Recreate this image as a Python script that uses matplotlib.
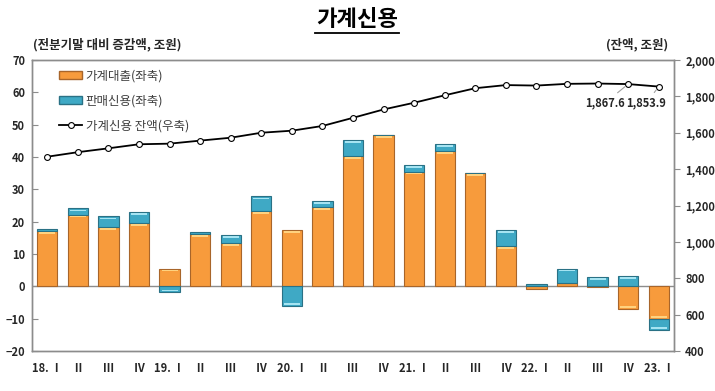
import matplotlib
matplotlib.use("Agg")
import matplotlib.pyplot as plt
from matplotlib.lines import Line2D
from matplotlib.patches import Patch
import numpy as np

plt.rcParams['font.family'] = ['Noto Sans CJK KR', 'DejaVu Sans']

categories = ["18. Ⅰ", "Ⅱ", "Ⅲ", "Ⅳ", "19. Ⅰ", "Ⅱ", "Ⅲ", "Ⅳ", "20. Ⅰ", "Ⅱ", "Ⅲ", "Ⅳ",
              "21. Ⅰ", "Ⅱ", "Ⅲ", "Ⅳ", "22. Ⅰ", "Ⅱ", "Ⅲ", "Ⅳ", "23. Ⅰ"]
household_loans = [17.2, 22.2, 18.4, 19.6, 5.5, 16.2, 13.4, 23.4, 17.5, 24.6, 40.4, 46.9,
                   35.5, 41.9, 35.1, 12.4, -0.8, 0.9, -0.3, -6.9, -10.0]
sales_credit = [0.4, 1.9, 3.2, 3.4, -1.9, 0.7, 2.4, 4.4, -6.0, 1.9, 4.9, 0.0,
                2.0, 2.2, 0.0, 5.0, 0.7, 4.6, 3.0, 3.3, -3.5]
credit_balance = [1468.2, 1493.2, 1514.4, 1536.7, 1540.0, 1556.7, 1572.7, 1600.1, 1611.3,
                  1637.3, 1682.1, 1728.1, 1765.0, 1805.9, 1844.9, 1862.1, 1859.4, 1868.9,
                  1870.6, 1867.6, 1853.9]
left_ticks = [-20, -10, 0, 10, 20, 30, 40, 50, 60, 70]
right_ticks = [400, 600, 800, 1000, 1200, 1400, 1600, 1800, 2000]

ORANGE = "#F79B3C"
ORANGE_EDGE = "#A8652A"
BLUE = "#3FA9C5"
BLUE_EDGE = "#2A7185"
TXT = "#262626"

fig = plt.figure(figsize=(7.15, 3.91), dpi=100)
ax = fig.add_axes([32/715, 1-351/391, (674-32)/715, (351-60)/391])
ax2 = ax.twinx()
ax.set_zorder(2)
ax.patch.set_visible(False)
ax2.set_zorder(1)

x = np.arange(len(categories))
loans = np.array(household_loans)
sales = np.array(sales_credit)
w = 0.66

loan_bottom = np.zeros_like(loans)
sales_bottom = np.where((sales >= 0) == (loans >= 0), loans, 0.0)

ax.bar(x, loans, w, bottom=loan_bottom, color=ORANGE, edgecolor=ORANGE_EDGE, linewidth=0.8, zorder=3)
ax.bar(x, sales, w, bottom=sales_bottom, color=BLUE, edgecolor=BLUE_EDGE, linewidth=0.8, zorder=3)

def highlight(vals, bottoms, col):
    for xi, v, b in zip(x, vals, bottoms):
        if abs(v) < 1.0:
            continue
        top = b + v
        s = np.sign(v)
        ax.bar(xi, -s*0.55, w*0.8, bottom=top - s*0.35, color=col, linewidth=0, zorder=4)
highlight(loans, loan_bottom, "#FFD27F")
highlight(sales, sales_bottom, "#A6E4F2")

ax.axhline(0, color="#8C8C8C", linewidth=1.0, zorder=2)

ax.set_ylim(-20, 70)
ax.set_yticks(left_ticks)
ax.set_xlim(-0.5, len(categories) - 0.5)
ax.set_xticks(x)
ax.set_xticklabels(categories)
ax.tick_params(axis='y', direction='in', length=4, colors="#8C8C8C", labelcolor=TXT, labelsize=8, pad=5)
ax.tick_params(axis='x', length=0, labelcolor=TXT, labelsize=8, pad=8)
for lab in ax.get_yticklabels() + ax.get_xticklabels():
    lab.set_fontweight('bold')

ax2.set_ylim(400, 2000)
ax2.set_yticks(right_ticks)
ax2.set_yticklabels([f"{v:,}" for v in right_ticks])
ax2.tick_params(axis='y', direction='out', length=4, colors="#8C8C8C", labelcolor=TXT, labelsize=8, pad=4)
for lab in ax2.get_yticklabels():
    lab.set_fontweight('bold')

for a in (ax, ax2):
    for sp in a.spines.values():
        sp.set_color("#8C8C8C")
        sp.set_linewidth(1.0)

ax_line = ax.twinx()
ax_line.set_zorder(3)
ax_line.patch.set_visible(False)
ax_line.set_ylim(400, 2000)
ax_line.axis('off')
ax_line.plot(x, credit_balance, color="black", linewidth=1.3, marker='o', markersize=4.2,
             markerfacecolor="white", markeredgecolor="black", markeredgewidth=0.8)
ax_line.annotate("1,867.6", xy=(x[19], credit_balance[19]), xytext=(18.25, 1764),
                 ha='center', va='center', fontsize=8, fontweight='bold', color=TXT,
                 arrowprops=dict(arrowstyle='-', color="#A0A0A0", lw=0.8, shrinkA=1, shrinkB=3))
ax_line.annotate("1,853.9", xy=(x[20], credit_balance[20]), xytext=(19.6, 1764),
                 ha='center', va='center', fontsize=8, fontweight='bold', color=TXT,
                 arrowprops=dict(arrowstyle='-', color="#A0A0A0", lw=0.8, shrinkA=1, shrinkB=3))

handles = [Patch(facecolor=ORANGE, edgecolor=ORANGE_EDGE),
           Patch(facecolor=BLUE, edgecolor=BLUE_EDGE),
           Line2D([0], [0], color="black", lw=1.3, marker='o', markersize=4.2,
                  markerfacecolor="white", markeredgecolor="black", markeredgewidth=0.8)]
labels = ["가계대출(좌축)", "판매신용(좌축)", "가계신용 잔액(우축)"]
leg = ax_line.legend(handles, labels, loc='upper left', bbox_to_anchor=(0.035, 0.985),
                     frameon=False, fontsize=9, handlelength=1.8, handleheight=0.6,
                     labelspacing=0.95, handletextpad=0.3, borderaxespad=0)
for t in leg.get_texts():
    t.set_color("#404040")

fig.text(357/715, 1-20/391, "가계신용", ha='center', va='center', fontsize=16, fontweight='bold', color="black")
fig.add_artist(Line2D([315/715, 399/715], [1-33/391, 1-33/391], color='black', lw=1.3))
fig.text(33/715, 1-45/391, "(전분기말 대비 증감액, 조원)", ha='left', va='center', fontsize=9, fontweight='bold', color=TXT)
fig.text(668/715, 1-45/391, "(잔액, 조원)", ha='right', va='center', fontsize=9, fontweight='bold', color=TXT)

fig.savefig("out.png", dpi=100)
